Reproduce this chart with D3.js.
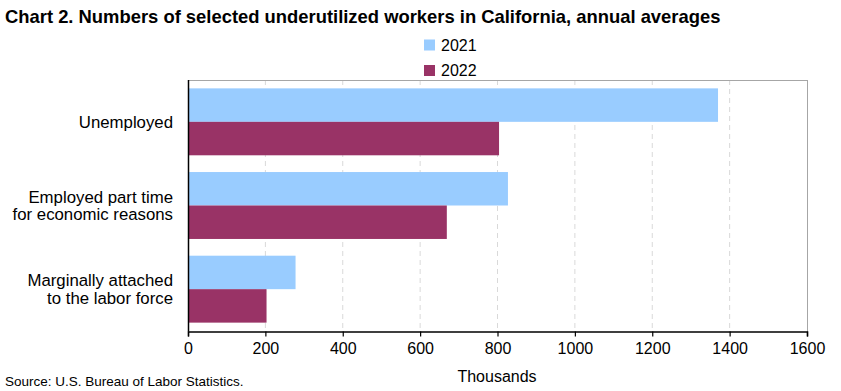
<!DOCTYPE html>
<html><head><meta charset="utf-8">
<script src="https://cdn.jsdelivr.net/npm/d3@7"></script>
<style>body{margin:0;background:#fff;} svg{display:block;font-family:"Liberation Sans",Arial,sans-serif;}</style>
</head><body>
<script>
const categories = [["Unemployed"], ["Employed part time", "for economic reasons"], ["Marginally attached", "to the labor force"]];
const seriesNames = ["2021", "2022"];
const values2021 = [1370, 827, 278];
const values2022 = [804, 669, 203];
const xTicks = [0, 200, 400, 600, 800, 1000, 1200, 1400, 1600];
const colors = ["#99ccff", "#993366"];

const W = 841, H = 391;
const m = {left: 188, right: 34, top: 80, bottom: 60};
const svg = d3.select("body").append("svg").attr("width", W).attr("height", H);

const x = d3.scaleLinear().domain([0, 1600]).range([m.left, W - m.right]);
const y = d3.scaleBand().domain(d3.range(categories.length)).range([m.top, H - m.bottom]).paddingInner(0.2).paddingOuter(0.1);
const ySub = d3.scaleBand().domain(seriesNames).range([0, y.bandwidth()]);

// gridlines
svg.append("g").selectAll("line").data(xTicks.slice(1, -1)).join("line")
  .attr("x1", d => x(d)).attr("x2", d => x(d))
  .attr("y1", m.top).attr("y2", H - m.bottom)
  .attr("stroke", "#d9d9d9").attr("stroke-dasharray", "5,4").attr("stroke-width", 1);

// frame top/right
svg.append("line").attr("x1", m.left).attr("x2", W - m.right).attr("y1", m.top + 0.5).attr("y2", m.top + 0.5).attr("stroke", "#a6a6a6");
svg.append("line").attr("x1", W - m.right + 0.5).attr("x2", W - m.right + 0.5).attr("y1", m.top).attr("y2", H - m.bottom).attr("stroke", "#a6a6a6");

const series = [values2021, values2022];
series.forEach((vals, si) => {
  svg.append("g").selectAll("rect").data(vals).join("rect")
    .attr("x", x(0))
    .attr("y", (d, i) => y(i) + ySub(seriesNames[si]))
    .attr("width", d => x(d) - x(0))
    .attr("height", ySub.bandwidth())
    .attr("fill", colors[si]);
});

// x axis
const xAxis = svg.append("g").attr("transform", `translate(0,${H - m.bottom + 0.5})`)
  .call(d3.axisBottom(x).tickValues(xTicks).tickSize(5).tickPadding(6).tickFormat(d3.format("d")));
xAxis.select(".domain").attr("stroke", "#000").attr("stroke-width", 1.5);
xAxis.selectAll(".tick line").attr("stroke", "#000").attr("stroke-width", 1.2);
xAxis.selectAll("text").attr("font-size", 16).attr("fill", "#000").attr("font-family", "Liberation Sans, Arial, sans-serif");

// y axis line
svg.append("line").attr("x1", m.left + 0.5).attr("x2", m.left + 0.5).attr("y1", m.top).attr("y2", H - m.bottom + 0.5).attr("stroke", "#000").attr("stroke-width", 1.5);

// category labels
const lineH = 17.6;
categories.forEach((lines, i) => {
  const cy = y(i) + y.bandwidth() / 2;
  const t = svg.append("text").attr("text-anchor", "end").attr("font-size", 16.8).attr("fill", "#000");
  lines.forEach((ln, j) => {
    t.append("tspan").attr("x", 173).attr("y", cy + (j - (lines.length - 1) / 2) * lineH).attr("dy", "0.35em").text(ln);
  });
});

// title
svg.append("text").attr("x", 5).attr("y", 23).attr("font-size", 18.4).attr("font-weight", "bold").attr("fill", "#000")
  .text("Chart 2. Numbers of selected underutilized workers in California, annual averages");

// legend
seriesNames.forEach((s, i) => {
  const cy = 45 + i * 25.5;
  svg.append("rect").attr("x", 424).attr("y", cy - 5.5).attr("width", 11).attr("height", 11).attr("fill", colors[i]);
  svg.append("text").attr("x", 441).attr("y", cy).attr("dy", "0.35em").attr("font-size", 16).attr("fill", "#000").text(s);
});

// axis title
svg.append("text").attr("x", 497).attr("y", 376).attr("dy", "0.35em").attr("text-anchor", "middle").attr("font-size", 16).attr("fill", "#000").text("Thousands");

// source
svg.append("text").attr("x", 5).attr("y", 381).attr("dy", "0.35em").attr("font-size", 13.5).attr("fill", "#000").text("Source: U.S. Bureau of Labor Statistics.");
</script>
</body></html>
